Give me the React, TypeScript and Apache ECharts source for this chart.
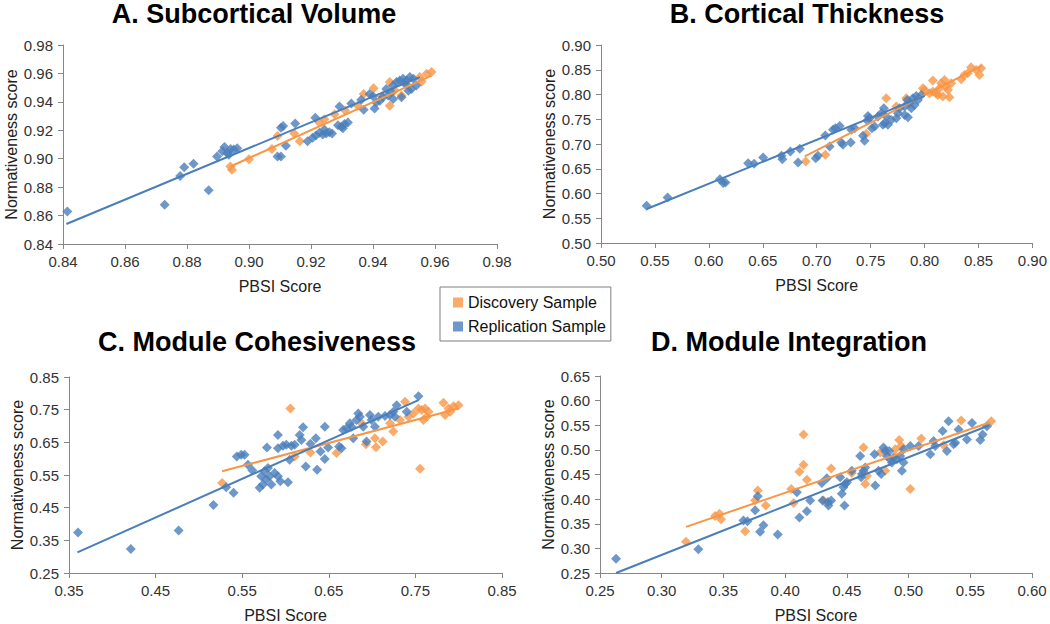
import React, { useEffect, useRef } from "react";
import * as echarts from "echarts";

// ---------- Data ----------
const titles = ["A. Subcortical Volume", "B. Cortical Thickness", "C. Module Cohesiveness", "D. Module Integration"];
const seriesNames = ["Discovery Sample", "Replication Sample"];
const xAxisName = "PBSI Score";
const yAxisName = "Normativeness score";

// axis ranges [min, max, interval]
const aRange = [0.84, 0.98, 0.02];
const bRange = [0.5, 0.9, 0.05];
const cXRange = [0.35, 0.85, 0.1];
const cYRange = [0.25, 0.85, 0.1];
const dXRange = [0.25, 0.6, 0.05];
const dYRange = [0.25, 0.65, 0.05];

const aReplication = [
  [0.8414, 0.8629], [0.8728, 0.8676], [0.8778, 0.8878], [0.8791, 0.894], [0.8821, 0.8964], [0.887, 0.8779],
  [0.8897, 0.9016], [0.8914, 0.9052], [0.8921, 0.9083], [0.893, 0.904], [0.8941, 0.9068], [0.8951, 0.9064],
  [0.8962, 0.9073], [0.8935, 0.9028], [0.9092, 0.9016], [0.9103, 0.9016], [0.9103, 0.9218], [0.911, 0.923],
  [0.9119, 0.9092], [0.9149, 0.9247], [0.9189, 0.9123], [0.9205, 0.9147], [0.9216, 0.9163], [0.9227, 0.9182],
  [0.9238, 0.917], [0.9249, 0.9178], [0.9243, 0.9206], [0.9259, 0.9187], [0.9268, 0.9178], [0.9214, 0.9289],
  [0.9287, 0.9235], [0.9298, 0.9225], [0.9308, 0.9245], [0.9319, 0.9255], [0.9303, 0.9215], [0.9292, 0.9368],
  [0.933, 0.9389], [0.937, 0.9344], [0.9362, 0.9415], [0.9389, 0.9456], [0.9405, 0.9353], [0.9422, 0.9408],
  [0.9432, 0.9432], [0.9449, 0.9444], [0.9459, 0.9467], [0.9465, 0.9515], [0.9476, 0.9539], [0.9486, 0.9551],
  [0.9497, 0.9562], [0.9508, 0.9551], [0.9519, 0.9574], [0.953, 0.9562], [0.954, 0.9515], [0.9524, 0.9491],
  [0.9514, 0.9479], [0.9492, 0.9432], [0.9503, 0.9527], [0.9465, 0.942], [0.9443, 0.9491], [0.9411, 0.9396],
  [0.94, 0.9439],
];
const aDiscovery = [
  [0.894, 0.8945], [0.8945, 0.8922], [0.9, 0.8997], [0.9074, 0.9068], [0.9092, 0.9159], [0.9164, 0.9123],
  [0.9146, 0.9178], [0.9227, 0.9254], [0.9243, 0.9277], [0.9276, 0.9313], [0.931, 0.934], [0.9351, 0.9372],
  [0.937, 0.9456], [0.9402, 0.9496], [0.9454, 0.9372], [0.9454, 0.9539], [0.9492, 0.9444], [0.9551, 0.9574],
  [0.9573, 0.9598], [0.9589, 0.961], [0.9557, 0.9543], [0.951, 0.952], [0.947, 0.948], [0.943, 0.944],
];
const aReplicationTrend = [[0.8411, 0.8541], [0.9551, 0.9574]];
const aDiscoveryTrend = [[0.894, 0.8945], [0.9589, 0.9585]];

const bReplication = [
  [0.5423, 0.5753], [0.5617, 0.592], [0.6102, 0.629], [0.6133, 0.621], [0.6154, 0.6224], [0.6364, 0.6613],
  [0.642, 0.66], [0.6503, 0.6728], [0.6673, 0.6761], [0.6682, 0.6694], [0.6756, 0.6849], [0.6827, 0.6627],
  [0.6843, 0.6903], [0.6991, 0.6714], [0.7012, 0.6761], [0.708, 0.7171], [0.712, 0.695], [0.7151, 0.7286],
  [0.7173, 0.7319], [0.7213, 0.7366], [0.7228, 0.703], [0.7244, 0.6983], [0.7315, 0.703], [0.7321, 0.7286],
  [0.7352, 0.7319], [0.7429, 0.7165], [0.7444, 0.7064], [0.7475, 0.7568], [0.7491, 0.7521], [0.7469, 0.7474],
  [0.7512, 0.7319], [0.7537, 0.7353], [0.7568, 0.7555], [0.7599, 0.7622], [0.7623, 0.7723], [0.7645, 0.7555],
  [0.763, 0.742], [0.766, 0.7387], [0.7691, 0.7487], [0.7614, 0.7387], [0.7738, 0.7521], [0.7753, 0.7622],
  [0.7769, 0.7723], [0.7815, 0.7756], [0.784, 0.7891], [0.7861, 0.7824], [0.7892, 0.7924], [0.7923, 0.7971],
  [0.7938, 0.7891], [0.7846, 0.7541], [0.7877, 0.7723], [0.7907, 0.779], [0.7969, 0.7992], [0.7815, 0.7588],
];
const bDiscovery = [
  [0.6898, 0.6647], [0.708, 0.6782], [0.746, 0.7205], [0.7645, 0.7924], [0.7738, 0.7756], [0.783, 0.7924],
  [0.7985, 0.8126], [0.8077, 0.8281], [0.8046, 0.8025], [0.8108, 0.8025], [0.8139, 0.8126], [0.8154, 0.8227],
  [0.8185, 0.8294], [0.8216, 0.8092], [0.817, 0.7958], [0.8231, 0.7945], [0.8247, 0.8227], [0.8123, 0.7992],
  [0.8077, 0.8059], [0.82, 0.816], [0.834, 0.8308], [0.837, 0.8395], [0.8432, 0.855], [0.8478, 0.8496],
  [0.8525, 0.853], [0.8509, 0.8395], [0.8401, 0.8429], [0.8, 0.809],
];
const bReplicationTrend = [[0.5423, 0.5686], [0.8, 0.7971]];
const bDiscoveryTrend = [[0.6889, 0.6748], [0.853, 0.858]];

const cReplication = [
  [0.3604, 0.3738], [0.4214, 0.3231], [0.4766, 0.3799], [0.5168, 0.4579], [0.5315, 0.5126], [0.54, 0.4954],
  [0.5438, 0.6068], [0.5488, 0.6119], [0.5527, 0.6119], [0.5566, 0.5815], [0.5616, 0.5643], [0.5701, 0.5106],
  [0.5739, 0.5207], [0.5778, 0.5359], [0.5759, 0.5612], [0.5797, 0.5714], [0.572, 0.546], [0.5836, 0.5207],
  [0.5817, 0.546], [0.5875, 0.5562], [0.5913, 0.546], [0.594, 0.5309], [0.6029, 0.5278], [0.5786, 0.6342],
  [0.5913, 0.6727], [0.5913, 0.6322], [0.5971, 0.6393], [0.601, 0.6423], [0.6068, 0.6393], [0.6106, 0.6423],
  [0.6048, 0.5967], [0.6164, 0.6727], [0.6183, 0.6575], [0.6203, 0.696], [0.6234, 0.5764], [0.6288, 0.6453],
  [0.635, 0.6626], [0.6404, 0.622], [0.6365, 0.5663], [0.6454, 0.698], [0.6454, 0.5987], [0.6492, 0.6342],
  [0.662, 0.6372], [0.6647, 0.6322], [0.6666, 0.6879], [0.6705, 0.693], [0.6743, 0.7082], [0.6763, 0.698],
  [0.6782, 0.6626], [0.682, 0.7183], [0.684, 0.7385], [0.6859, 0.7284], [0.6898, 0.698], [0.6936, 0.6524],
  [0.6975, 0.7335], [0.6994, 0.7183], [0.7033, 0.698], [0.7071, 0.7284], [0.7149, 0.7304], [0.7207, 0.7335],
  [0.7245, 0.7436], [0.7264, 0.7284], [0.7284, 0.7639], [0.74, 0.7436], [0.7535, 0.7912],
];
const cDiscovery = [
  [0.5268, 0.5258], [0.6056, 0.7537], [0.6106, 0.6068], [0.6288, 0.619], [0.6589, 0.617], [0.6878, 0.7082],
  [0.6928, 0.6443], [0.7033, 0.6626], [0.7045, 0.6352], [0.7122, 0.6524], [0.7207, 0.7082], [0.7245, 0.6828],
  [0.7322, 0.7183], [0.738, 0.774], [0.7419, 0.7284], [0.7477, 0.7385], [0.7554, 0.5693], [0.7535, 0.7537],
  [0.7573, 0.7487], [0.7612, 0.7537], [0.7651, 0.7436], [0.7592, 0.7183], [0.7631, 0.7284], [0.7824, 0.771],
  [0.7843, 0.7335], [0.7882, 0.7537], [0.7902, 0.7436], [0.794, 0.7608], [0.7998, 0.7639],
];
const cReplicationTrend = [[0.3597, 0.313], [0.7535, 0.7791]];
const cDiscoveryTrend = [[0.5268, 0.5612], [0.7998, 0.7536]];

const dReplication = [
  [0.263, 0.2787], [0.3297, 0.2981], [0.3662, 0.3564], [0.3695, 0.3551], [0.3757, 0.3772], [0.3778, 0.406],
  [0.3797, 0.3336], [0.3824, 0.347], [0.394, 0.3283], [0.4095, 0.4141], [0.4116, 0.3625], [0.4176, 0.3752],
  [0.4203, 0.3973], [0.4297, 0.4328], [0.4338, 0.4422], [0.4303, 0.3973], [0.4351, 0.3873], [0.4373, 0.3973],
  [0.4346, 0.394], [0.4446, 0.4442], [0.4459, 0.4107], [0.4473, 0.4241], [0.4486, 0.4308], [0.45, 0.4342],
  [0.4481, 0.3873], [0.454, 0.4577], [0.4608, 0.4878], [0.4622, 0.4509], [0.4635, 0.4576], [0.4649, 0.4643],
  [0.4616, 0.4442], [0.473, 0.4275], [0.4724, 0.4912], [0.4757, 0.4576], [0.4778, 0.4509], [0.4797, 0.5046],
  [0.4811, 0.4979], [0.4824, 0.4878], [0.4843, 0.4979], [0.4851, 0.4811], [0.4865, 0.4744], [0.4878, 0.4845],
  [0.4905, 0.4811], [0.4932, 0.4878], [0.4959, 0.5012], [0.4946, 0.4576], [0.4959, 0.4744], [0.5014, 0.5079],
  [0.5081, 0.5079], [0.5176, 0.4912], [0.5203, 0.518], [0.5216, 0.5079], [0.5276, 0.5381], [0.5311, 0.4979],
  [0.5324, 0.5582], [0.5365, 0.5113], [0.5378, 0.5146], [0.5405, 0.5414], [0.5473, 0.5213], [0.5514, 0.5548],
  [0.5581, 0.52], [0.56, 0.5314], [0.5635, 0.5481],
];
const dDiscovery = [
  [0.3197, 0.3135], [0.3432, 0.3658], [0.3468, 0.3705], [0.3481, 0.3591], [0.3676, 0.335], [0.3757, 0.3973],
  [0.3778, 0.4174], [0.3843, 0.3873], [0.4049, 0.4208], [0.4068, 0.392], [0.4116, 0.4556], [0.4149, 0.5314],
  [0.4149, 0.4697], [0.4176, 0.4395], [0.4311, 0.3973], [0.4373, 0.4623], [0.454, 0.453], [0.4635, 0.5046],
  [0.4649, 0.4308], [0.4662, 0.4476], [0.477, 0.4945], [0.4811, 0.4576], [0.4892, 0.5012], [0.4924, 0.52],
  [0.4941, 0.5079], [0.5014, 0.4208], [0.5103, 0.5233], [0.5284, 0.5093], [0.5427, 0.5596], [0.567, 0.5582],
];
const dReplicationTrend = [[0.263, 0.25], [0.5649, 0.5495]];
const dDiscoveryTrend = [[0.3197, 0.3437], [0.5662, 0.5562]];

// ---------- Styling ----------
const ORANGE = "#F79646";
const BLUE = "#4A7EBB";
const FONT = '"Liberation Sans", Arial, Helvetica, sans-serif';
const AXIS_GRAY = "#868686";

const grids = [
  { left: 63, top: 45, width: 434, height: 199 },
  { left: 601, top: 45, width: 433, height: 198 },
  { left: 69, top: 377, width: 433, height: 198 },
  { left: 600, top: 376, width: 432, height: 199 },
];
const titlePos = [
  [254, 14],
  [807, 14],
  [257, 342],
  [789, 342],
];

const panels = [
  { xr: aRange, yr: aRange, disc: aDiscovery, rep: aReplication, dt: aDiscoveryTrend, rt: aReplicationTrend },
  { xr: bRange, yr: bRange, disc: bDiscovery, rep: bReplication, dt: bDiscoveryTrend, rt: bReplicationTrend },
  { xr: cXRange, yr: cYRange, disc: cDiscovery, rep: cReplication, dt: cDiscoveryTrend, rt: cReplicationTrend },
  { xr: dXRange, yr: dYRange, disc: dDiscovery, rep: dReplication, dt: dDiscoveryTrend, rt: dReplicationTrend },
];

function axisCommon() {
  return {
    axisLine: { show: true, onZero: false, lineStyle: { color: AXIS_GRAY, width: 1 } },
    axisTick: { show: true, inside: false, length: 5, lineStyle: { color: AXIS_GRAY } },
    splitLine: { show: false },
    axisLabel: {
      color: "#333",
      fontSize: 15,
      fontFamily: FONT,
      margin: 10,
      formatter: (v: number) => v.toFixed(2),
    },
    nameLocation: "middle",
    nameTextStyle: { color: "#222", fontSize: 16, fontFamily: FONT },
  };
}

function buildOption() {
  const xAxis: any[] = [];
  const yAxis: any[] = [];
  const scatterDisc: any[] = [];
  const scatterRep: any[] = [];
  const lines: any[] = [];
  panels.forEach((p, i) => {
    xAxis.push({
      ...axisCommon(),
      type: "value",
      gridIndex: i,
      min: p.xr[0],
      max: p.xr[1],
      interval: p.xr[2],
      name: xAxisName,
      nameGap: 34,
    });
    yAxis.push({
      ...axisCommon(),
      type: "value",
      gridIndex: i,
      min: p.yr[0],
      max: p.yr[1],
      interval: p.yr[2],
      name: yAxisName,
      nameGap: 44,
      nameRotate: 90,
    });
    scatterDisc.push({
      type: "scatter",
      name: seriesNames[0],
      xAxisIndex: i,
      yAxisIndex: i,
      data: p.disc,
      symbol: "diamond",
      symbolSize: 10,
      itemStyle: { color: ORANGE },
    });
    scatterRep.push({
      type: "scatter",
      name: seriesNames[1],
      xAxisIndex: i,
      yAxisIndex: i,
      data: p.rep,
      symbol: "diamond",
      symbolSize: 10,
      itemStyle: { color: BLUE },
    });
    lines.push({
      type: "line",
      name: "Discovery trend " + i,
      xAxisIndex: i,
      yAxisIndex: i,
      data: p.dt,
      symbol: "none",
      lineStyle: { color: ORANGE, width: 2 },
      itemStyle: { color: ORANGE },
    });
    lines.push({
      type: "line",
      name: "Replication trend " + i,
      xAxisIndex: i,
      yAxisIndex: i,
      data: p.rt,
      symbol: "none",
      lineStyle: { color: BLUE, width: 2 },
      itemStyle: { color: BLUE },
    });
  });

  return {
    animation: false,
    backgroundColor: "#ffffff",
    textStyle: { fontFamily: FONT },
    grid: grids.map((g) => ({ ...g, containLabel: false })),
    xAxis,
    yAxis,
    legend: {
      data: seriesNames,
      orient: "vertical",
      left: 440,
      top: 287,
      icon: "rect",
      itemWidth: 10,
      itemHeight: 10,
      itemGap: 7,
      padding: [7, 5, 6, 13],
      borderColor: "#7f7f7f",
      borderWidth: 1,
      textStyle: { color: "#111", fontSize: 16, fontFamily: FONT, lineHeight: 17 },
      selectedMode: false,
    },
    graphic: titles.map((t, i) => ({
      type: "text",
      x: titlePos[i][0],
      y: titlePos[i][1],
      style: {
        text: t,
        fill: "#000",
        fontSize: 27,
        fontWeight: "bold",
        fontFamily: FONT,
        textAlign: "center",
        textVerticalAlign: "middle",
      },
    })),
    series: [...scatterDisc, ...scatterRep, ...lines],
  };
}

export default function App() {
  const ref = useRef<HTMLDivElement>(null);
  useEffect(() => {
    if (!ref.current) return;
    const chart = echarts.init(ref.current, undefined, { renderer: "svg" });
    chart.setOption(buildOption() as any);
    return () => chart.dispose();
  }, []);
  return (
    <div
      ref={ref}
      style={{ position: "absolute", left: 0, top: 0, width: 1050, height: 624, background: "#fff" }}
    />
  );
}
